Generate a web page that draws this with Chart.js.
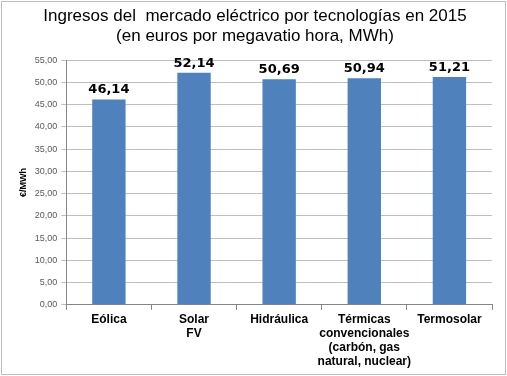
<!DOCTYPE html>
<html><head><meta charset="utf-8">
<script src="https://cdn.jsdelivr.net/npm/chart.js@4"></script>
<style>html,body{margin:0;padding:0;background:#fff}#wrap{width:507px;height:376px;position:relative}</style>
</head><body><div id="wrap"><canvas id="c" width="507" height="376"></canvas></div>
<script>
const categories = [["Eólica"], ["Solar", "FV"], ["Hidráulica"], ["Térmicas", "convencionales", "(carbón, gas", "natural, nuclear)"], ["Termosolar"]];
const values = [46.14, 52.14, 50.69, 50.94, 51.21];
const titleLines = ["Ingresos del  mercado eléctrico por tecnologías en 2015", "(en euros por megavatio hora, MWh)"];
const yTitle = "€/MWh";

const fmt = v => v.toFixed(2).replace('.', ',');

const frame = {
  id: 'frame',
  beforeDraw(chart) {
    const ctx = chart.ctx;
    ctx.save();
    ctx.fillStyle = '#fff';
    ctx.fillRect(0, 0, chart.width, chart.height);
    ctx.strokeStyle = '#bdbdbd';
    ctx.lineWidth = 1;
    ctx.strokeRect(1.5, 1.5, chart.width - 3, chart.height - 3);
    ctx.restore();
  },
  afterDatasetsDraw(chart) {
    const ctx = chart.ctx;
    const meta = chart.getDatasetMeta(0);
    ctx.save();
    ctx.font = 'bold 13px "DejaVu Sans"';
    ctx.fillStyle = '#000';
    ctx.textAlign = 'center';
    ctx.textBaseline = 'bottom';
    meta.data.forEach((bar, i) => {
      ctx.fillText(fmt(values[i]), bar.x, bar.y - 3);
    });
    ctx.restore();
  }
};

new Chart(document.getElementById('c'), {
  type: 'bar',
  data: {
    labels: categories,
    datasets: [{
      data: values,
      backgroundColor: '#4f81bd',
      borderWidth: 0,
      categoryPercentage: 0.8,
      barPercentage: 0.49
    }]
  },
  options: {
    responsive: false,
    animation: false,
    devicePixelRatio: 1,
    layout: { padding: { left: 18, right: 15, top: 0, bottom: 4 } },
    plugins: {
      legend: { display: false },
      tooltip: { enabled: false },
      title: {
        display: true,
        text: titleLines,
        color: '#000',
        font: { family: '"Liberation Sans", Arial', size: 17, weight: 'normal', lineHeight: 1.15 },
        padding: { top: 7, bottom: 14 }
      }
    },
    scales: {
      y: {
        min: 0, max: 55,
        ticks: {
          stepSize: 5,
          callback: v => fmt(v),
          color: '#595959',
          font: { family: '"Liberation Sans", Arial', size: 9 },
          padding: 4
        },
        grid: {
          color: '#bfbfbf',
          tickLength: 5,
          drawTicks: true
        },
        border: { color: '#868686' },
        title: {
          display: true,
          text: yTitle,
          color: '#000',
          font: { family: '"Liberation Sans", Arial', size: 9, weight: 'bold' },
          padding: { top: 0, bottom: 2 }
        }
      },
      x: {
        offset: true,
        ticks: {
          color: '#000',
          font: { family: '"Liberation Sans", Arial', size: 12, weight: 'bold', lineHeight: 1.17 },
          maxRotation: 0,
          autoSkip: false,
          padding: 3
        },
        grid: {
          display: true,
          drawOnChartArea: false,
          offset: true,
          tickLength: 5,
          color: '#868686'
        },
        border: { color: '#868686' }
      }
    }
  },
  plugins: [frame]
});
</script>
</body></html>
